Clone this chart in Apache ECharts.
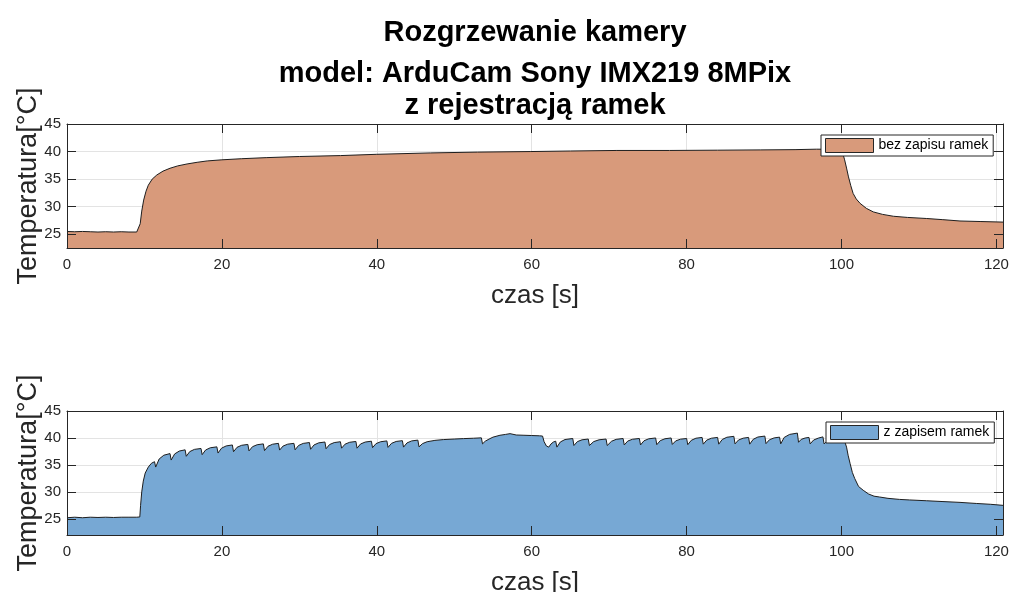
<!DOCTYPE html>
<html>
<head>
<meta charset="utf-8">
<script src="https://cdn.jsdelivr.net/npm/echarts@6/dist/echarts.min.js"></script>
<style>
html,body{margin:0;padding:0;background:#fff;}
#chart{width:1013px;height:592px;}
</style>
</head>
<body>
<div id="chart"></div>
<script>
const titleLines = ['Rozgrzewanie kamery', 'model: ArduCam Sony IMX219 8MPix', 'z rejestracją ramek'];
const xName = 'czas [s]';
const yName = 'Temperatura[°C]';
const seriesNames = ['bez zapisu ramek', 'z zapisem ramek'];
const xTicks = [0, 20, 40, 60, 80, 100, 120];
const yTicks = [25, 30, 35, 40, 45];
const xRange = [0, 120.85];
const yRangeTop = [22.5, 45];
const yRangeBottom = [22, 45];

const topTime = [0, 1, 2, 3, 4, 5, 6, 7, 8, 9, 9.25, 9.45, 9.65, 9.9, 10.2, 10.5, 11.0, 11.6, 12.4, 13.3, 14.3, 15.5, 16.8, 18.1, 20, 22.5, 25.8, 30, 35.3, 40, 46.9, 53, 59.8, 65, 71, 77.8, 84, 89.5, 94, 96.8, 99.5, 100.1, 100.4, 100.65, 100.9, 101.2, 101.5, 101.9, 102.4, 103.2, 104.1, 105.3, 106.7, 108.5, 111, 113, 115.3, 118, 120.85];
const topTemp = [25.5, 25.45, 25.5, 25.45, 25.4, 25.45, 25.4, 25.45, 25.4, 25.4, 25.45, 26.9, 29.2, 31.2, 32.8, 33.9, 35.0, 35.75, 36.45, 36.97, 37.4, 37.75, 38.05, 38.3, 38.5, 38.7, 38.9, 39.1, 39.27, 39.5, 39.75, 39.9, 40.0, 40.1, 40.2, 40.2, 40.25, 40.3, 40.35, 40.43, 40.4, 40.0, 38.5, 37.0, 35.4, 33.8, 32.4, 31.4, 30.6, 29.7, 29.05, 28.6, 28.26, 28.05, 27.85, 27.65, 27.4, 27.3, 27.2];

const bottomTime = [0, 1, 2, 3, 4, 5, 6, 7, 8, 9, 9.4, 9.5, 9.65, 9.85, 10.1, 10.5, 10.9,
  11.3, 11.45, 11.9, 12.5, 13.3, 13.45, 13.9, 14.5, 15.25, 15.4, 15.85, 16.45, 17.3, 17.45, 17.9, 18.5,
  19.35, 19.5, 19.95, 20.55, 21.35, 21.5, 21.95, 22.55, 23.35, 23.5, 23.95, 24.55, 25.35, 25.5, 25.95, 26.55,
  27.3, 27.45, 27.9, 28.5, 29.3, 29.45, 29.9, 30.5, 31.3, 31.45, 31.9, 32.5, 33.3, 33.45, 33.9, 34.5,
  35.3, 35.45, 35.9, 36.5, 37.3, 37.45, 37.9, 38.5, 39.3, 39.45, 39.9, 40.5, 41.3, 41.45, 41.9, 42.5,
  43.3, 43.45, 43.9, 44.5, 45.3, 45.45, 45.9, 46.5, 47.5, 48.6, 50, 51.2, 52.5, 53.5, 53.65, 54.0, 54.5,
  55.0, 55.9, 56.6, 57.2, 57.35, 58.0, 59.0, 60.0, 61.0, 61.4, 61.6, 61.9, 62.2, 62.5, 62.8,
  63.1, 63.25, 63.7, 64.3, 65.3, 65.45, 65.9, 66.5, 67.3, 67.45, 68.0, 68.7, 69.6, 69.75, 70.3, 70.9,
  71.8, 71.95, 72.4, 73.0, 73.9, 74.05, 74.5, 75.1, 76.0, 76.15, 76.6, 77.2, 78.0, 78.15, 78.6, 79.2,
  80.0, 80.15, 80.6, 81.2, 82.0, 82.15, 82.6, 83.2, 84.0, 84.15, 84.6, 85.2, 86.1, 86.25, 86.7, 87.3,
  88.0, 88.15, 88.6, 89.2, 90.1, 90.25, 90.7, 91.3, 92.0, 92.15, 92.6, 93.3, 94.3, 94.45, 94.8, 95.3,
  95.8, 95.95, 96.4, 97.0, 97.6, 97.75, 98.3, 99.0, 99.6, 100.2, 100.45, 100.65, 100.85, 101.1, 101.4, 101.7,
  102.2, 102.8, 103.5, 104.2, 104.9, 106, 107.5, 108.8, 111, 113.1, 115.3, 117.4, 119.2, 120.85];
const bottomTemp = [25.2, 25.3, 25.2, 25.3, 25.25, 25.3, 25.25, 25.3, 25.3, 25.3, 25.35, 27.5, 30.0, 32.0, 33.5, 34.6, 35.3,
  35.6, 34.6, 36.1, 36.8, 37.1, 35.9, 37.04, 37.57, 37.8, 36.6, 37.47, 37.88, 38.05, 36.9, 37.77, 38.18,
  38.35, 37.2, 38.1, 38.52, 38.7, 37.45, 38.26, 38.64, 38.8, 37.6, 38.38, 38.74, 38.9, 37.65, 38.46, 38.84,
  39.0, 37.75, 38.5, 38.85, 39.0, 37.8, 38.61, 38.99, 39.15, 37.9, 38.71, 39.09, 39.25, 38.0, 38.78, 39.14,
  39.3, 38.1, 38.85, 39.2, 39.35, 38.1, 38.88, 39.24, 39.4, 38.2, 38.95, 39.3, 39.45, 38.25, 39.0, 39.35,
  39.5, 38.3, 39.08, 39.45, 39.6, 38.35, 38.95, 39.3, 39.55, 39.7, 39.8, 39.88, 39.95, 40.02, 38.9, 39.4, 39.8,
  40.15, 40.5, 40.65, 40.8, 40.55, 40.55, 40.5, 40.45, 40.4, 40.35, 39.3, 38.5, 38.3, 38.9, 39.25,
  39.4, 38.3, 39.26, 39.71, 39.9, 38.6, 39.32, 39.66, 39.8, 38.6, 39.32, 39.66, 39.8, 38.6, 39.38, 39.74,
  39.9, 38.7, 39.42, 39.76, 39.9, 38.7, 39.48, 39.84, 40.0, 38.75, 39.5, 39.85, 40.0, 38.8, 39.46, 39.77,
  39.9, 38.75, 39.56, 39.95, 40.1, 38.85, 39.6, 39.95, 40.1, 38.85, 39.72, 40.13, 40.3, 38.9, 39.62, 39.96,
  40.1, 38.85, 39.75, 40.17, 40.35, 38.95, 39.67, 40.01, 40.15, 38.9, 40.1, 40.66, 40.9, 39.2, 39.74, 39.99,
  40.1, 38.9, 39.62, 39.97, 40.2, 38.9, 39.6, 39.95, 40.15, 40.2, 39.2, 38.3, 36.8, 35.3, 33.6, 32.5,
  31.0, 30.3, 29.6, 29.2, 29.05, 28.8, 28.6, 28.5, 28.35, 28.2, 28.05, 27.85, 27.7, 27.5];

const FONT = 'Liberation Sans, Arial, sans-serif';
const INK = '#262626';
const fills = ['#D89A7B', '#77A8D4'];

const grids = [
  { left: 67, right: 10, top: 124, height: 124, containLabel: false, outerBoundsMode: 'none' },
  { left: 67, right: 10, top: 411, height: 124, containLabel: false, outerBoundsMode: 'none' }
];
const yRanges = [yRangeTop, yRangeBottom];

const xAxes = [], yAxes = [];
grids.forEach((g, gi) => {
  xAxes.push({ gridIndex: gi, type: 'value', min: xRange[0], max: xRange[1], z: 0,
    axisLine: { show: false }, axisTick: { show: false, customValues: xTicks },
    axisLabel: { show: false, customValues: xTicks },
    splitLine: { show: true, lineStyle: { color: '#e3e3e3', width: 1 } } });
  yAxes.push({ gridIndex: gi, type: 'value', min: yRanges[gi][0], max: yRanges[gi][1], z: 0,
    axisLine: { show: false }, axisTick: { show: false, customValues: yTicks },
    axisLabel: { show: false, customValues: yTicks },
    splitLine: { show: true, lineStyle: { color: '#e3e3e3', width: 1 } } });
  xAxes.push({ gridIndex: gi, type: 'value', position: 'bottom', min: xRange[0], max: xRange[1], z: 5,
    name: xName, nameLocation: 'middle', nameGap: 35, nameMoveOverlap: false,
    nameTextStyle: { fontFamily: FONT, fontSize: 26, color: INK },
    axisLine: { show: true, onZero: false, lineStyle: { color: INK, width: 1 } },
    axisTick: { show: true, inside: true, length: 9, customValues: xTicks, lineStyle: { color: INK } },
    axisLabel: { show: true, customValues: xTicks, margin: 9, fontFamily: FONT, fontSize: 15, color: INK },
    splitLine: { show: false } });
  xAxes.push({ gridIndex: gi, type: 'value', position: 'top', min: xRange[0], max: xRange[1], z: 5,
    axisLine: { show: true, onZero: false, lineStyle: { color: INK, width: 1 } },
    axisTick: { show: true, inside: true, length: 9, customValues: xTicks, lineStyle: { color: INK } },
    axisLabel: { show: false }, splitLine: { show: false } });
  yAxes.push({ gridIndex: gi, type: 'value', position: 'left', min: yRanges[gi][0], max: yRanges[gi][1], z: 5,
    name: yName, nameLocation: 'middle', nameGap: 25, nameMoveOverlap: false,
    nameTextStyle: { fontFamily: FONT, fontSize: 27, color: INK },
    axisLine: { show: true, onZero: false, lineStyle: { color: INK, width: 1 } },
    axisTick: { show: true, inside: true, length: 9, customValues: yTicks, lineStyle: { color: INK } },
    axisLabel: { show: true, customValues: yTicks, margin: 6, fontFamily: FONT, fontSize: 15, color: INK },
    splitLine: { show: false } });
  yAxes.push({ gridIndex: gi, type: 'value', position: 'right', min: yRanges[gi][0], max: yRanges[gi][1], z: 5,
    axisLine: { show: true, onZero: false, lineStyle: { color: INK, width: 1 } },
    axisTick: { show: true, inside: true, length: 9, customValues: yTicks, lineStyle: { color: INK } },
    axisLabel: { show: false }, splitLine: { show: false } });
});

function pairs(ts, vs) { return ts.map((t, i) => [t, vs[i]]); }

const seriesData = [pairs(topTime, topTemp), pairs(bottomTime, bottomTemp)];

const series = seriesData.map((d, i) => ({
  name: seriesNames[i], type: 'line', xAxisIndex: i * 3, yAxisIndex: i * 3,
  data: d, showSymbol: false, symbol: 'none', smooth: false, z: 2,
  itemStyle: { color: fills[i] },
  lineStyle: { color: '#1e1e1e', width: 1 },
  areaStyle: { color: fills[i], opacity: 1, origin: 'start' }
}));

const legends = [
  { left: 821, top: 135 },
  { left: 826, top: 422 }
].map((p, i) => ({
  left: p.left, top: p.top, orient: 'vertical',
  data: [{ name: seriesNames[i], icon: 'rect', itemStyle: { color: fills[i], borderColor: INK, borderWidth: 1 } }],
  itemWidth: 48, itemHeight: 14, padding: [3, 5, 3, 4],
  backgroundColor: '#fff', borderColor: INK, borderWidth: 1, borderRadius: 0,
  textStyle: { fontFamily: FONT, fontSize: 14, color: '#000' },
  selectedMode: false
}));

const titleTops = [18, 59, 91];
const titles = titleLines.map((t, i) => ({
  text: t, left: 535, top: titleTops[i], textAlign: 'center', padding: 0,
  textStyle: { fontFamily: FONT, fontSize: 29, fontWeight: 'bold', color: '#000' }
}));

const chart = echarts.init(document.getElementById('chart'), null, { renderer: 'canvas' });
chart.setOption({
  animation: false,
  backgroundColor: '#fff',
  title: titles,
  legend: legends,
  grid: grids,
  xAxis: xAxes,
  yAxis: yAxes,
  series: series
});
</script>
</body>
</html>
